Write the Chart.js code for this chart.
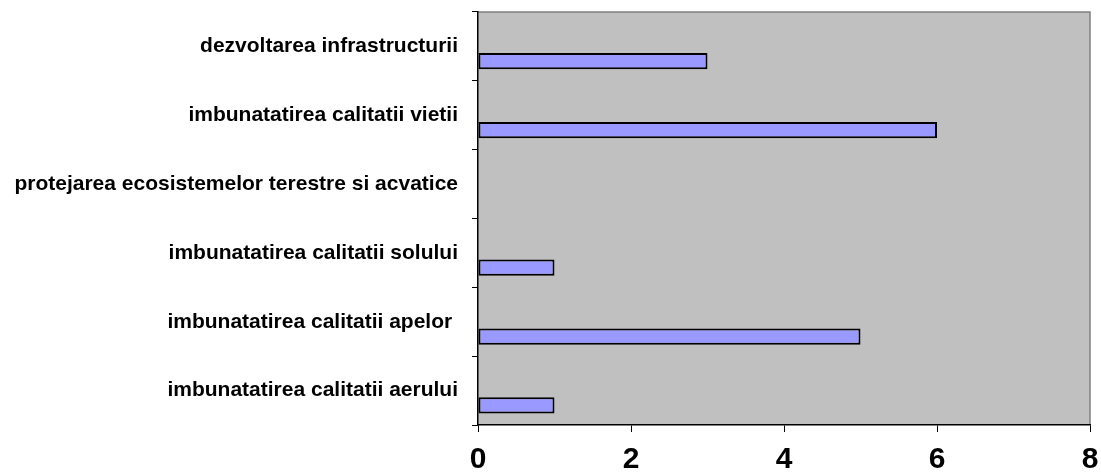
<!DOCTYPE html>
<html>
<head>
<meta charset="utf-8">
<script src="https://cdn.jsdelivr.net/npm/chart.js@4/dist/chart.umd.min.js"></script>
<style>
  html, body { margin: 0; padding: 0; background: #fff; }
  #wrap { width: 1101px; height: 472px; position: relative; }
</style>
</head>
<body>
<div id="wrap"><canvas id="c"></canvas></div>
<script>
// chart data, top to bottom as in the picture
const categories = [
  'dezvoltarea infrastructurii',
  'imbunatatirea calitatii vietii',
  'protejarea ecosistemelor terestre si acvatice',
  'imbunatatirea calitatii solului',
  'imbunatatirea calitatii apelor ',
  'imbunatatirea calitatii aerului'
];
const emptySeries = [null, null, null, null, null, null];
const counts = [3, 6, 0, 1, 5, 1];
const xTicks = [0, 2, 4, 6, 8];

// gray plot area with a thin gray frame on top / right
const plotArea = {
  id: 'plotArea',
  beforeDraw(chart) {
    const a = chart.chartArea, ctx = chart.ctx;
    ctx.save();
    ctx.fillStyle = '#c0c0c0';
    ctx.fillRect(a.left, a.top, a.right - a.left, a.bottom - a.top);
    ctx.strokeStyle = '#808080';
    ctx.lineWidth = 1.5;
    ctx.beginPath();
    ctx.moveTo(a.left, a.top);
    ctx.lineTo(a.right, a.top);
    ctx.lineTo(a.right, a.bottom);
    ctx.stroke();
    ctx.restore();
  }
};

new Chart(document.getElementById('c'), {
  type: 'bar',
  data: {
    labels: categories,
    datasets: [
      { label: '', data: emptySeries },
      {
        label: 'Serie',
        data: counts,
        backgroundColor: '#9999ff',
        borderColor: '#000',
        borderWidth: 2,
        borderSkipped: false
      }
    ]
  },
  options: {
    indexAxis: 'y',
    responsive: true,
    maintainAspectRatio: false,
    animation: false,
    layout: { padding: { top: 0, right: 11, left: 0, bottom: 0 } },
    datasets: { bar: { categoryPercentage: 0.86, barPercentage: 0.55 } },
    plugins: { legend: { display: false }, tooltip: { enabled: false } },
    scales: {
      x: {
        min: 0, max: 8,
        afterBuildTicks(scale) { scale.ticks = xTicks.map(v => ({ value: v })); },
        grid: { drawOnChartArea: false, color: '#000', tickLength: 7, lineWidth: 1 },
        border: { color: '#000', width: 1.5 },
        ticks: { color: '#000', font: { family: 'Liberation Sans, Arial', size: 30, weight: 'bold' }, padding: 10, maxRotation: 0 },
        afterFit(scale) { scale.height = 47; scale.paddingLeft = 0; scale.paddingRight = 0; }
      },
      y: {
        grid: { drawOnChartArea: false, color: '#000', tickLength: 6, lineWidth: 1, offset: true },
        border: { color: '#000', width: 1.5 },
        ticks: { color: '#000', font: { family: 'Liberation Sans, Arial', size: 21, weight: 'bold' }, padding: 14, autoSkip: false },
        afterFit(scale) { scale.width = 478; scale.paddingTop = 12; scale.paddingBottom = 0; }
      }
    }
  },
  plugins: [plotArea]
});
</script>
</body>
</html>
